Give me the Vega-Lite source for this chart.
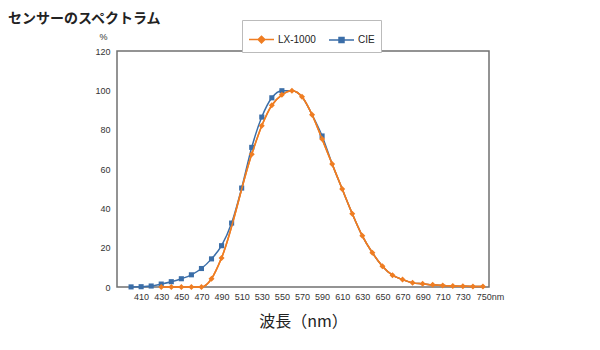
{
  "$schema": "https://vega.github.io/schema/vega-lite/v6.json",
  "autosize": "none",
  "width": 372,
  "height": 236,
  "padding": {"left": 117, "top": 51, "right": 111, "bottom": 63},
  "background": "white",
  "title": {
    "text": "センサーのスペクトラム",
    "anchor": "start",
    "frame": "group",
    "dx": -109,
    "dy": 29,
    "offset": 12,
    "baseline": "alphabetic",
    "font": "Noto Sans CJK JP",
    "fontSize": 14,
    "fontWeight": "bold",
    "color": "#222"
  },
  "config": {
    "view": {"stroke": "#707070", "strokeWidth": 1.5},
    "axis": {"domain": false, "ticks": false, "grid": false, "labelFont": "Liberation Sans", "labelFontSize": 9, "labelColor": "#333"}
  },
  "data": {
    "values": [
      {"wl": 400, "series": "CIE", "v": 0.05},
      {"wl": 410, "series": "CIE", "v": 0.15},
      {"wl": 420, "series": "CIE", "v": 0.5},
      {"wl": 430, "series": "CIE", "v": 1.5},
      {"wl": 440, "series": "CIE", "v": 2.7},
      {"wl": 450, "series": "CIE", "v": 4.2},
      {"wl": 460, "series": "CIE", "v": 6.2},
      {"wl": 470, "series": "CIE", "v": 9.4},
      {"wl": 480, "series": "CIE", "v": 14.3},
      {"wl": 490, "series": "CIE", "v": 21},
      {"wl": 500, "series": "CIE", "v": 32.5},
      {"wl": 510, "series": "CIE", "v": 50.3},
      {"wl": 520, "series": "CIE", "v": 71},
      {"wl": 530, "series": "CIE", "v": 86.4},
      {"wl": 540, "series": "CIE", "v": 96.2},
      {"wl": 550, "series": "CIE", "v": 99.8},
      {"wl": 560, "series": "CIE", "v": 99.8},
      {"wl": 570, "series": "CIE", "v": 96.7},
      {"wl": 580, "series": "CIE", "v": 87.6},
      {"wl": 590, "series": "CIE", "v": 76.8},
      {"wl": 600, "series": "CIE", "v": 62.5},
      {"wl": 610, "series": "CIE", "v": 49.8},
      {"wl": 620, "series": "CIE", "v": 37.3},
      {"wl": 630, "series": "CIE", "v": 26},
      {"wl": 640, "series": "CIE", "v": 17.4},
      {"wl": 650, "series": "CIE", "v": 10.6},
      {"wl": 660, "series": "CIE", "v": 6},
      {"wl": 670, "series": "CIE", "v": 3.8},
      {"wl": 680, "series": "CIE", "v": 2.1},
      {"wl": 690, "series": "CIE", "v": 1.6},
      {"wl": 700, "series": "CIE", "v": 1.1},
      {"wl": 710, "series": "CIE", "v": 0.7},
      {"wl": 720, "series": "CIE", "v": 0.5},
      {"wl": 730, "series": "CIE", "v": 0.4},
      {"wl": 740, "series": "CIE", "v": 0.3},
      {"wl": 750, "series": "CIE", "v": 0.3},
      {"wl": 430, "series": "LX-1000", "v": 0},
      {"wl": 440, "series": "LX-1000", "v": 0},
      {"wl": 450, "series": "LX-1000", "v": 0},
      {"wl": 460, "series": "LX-1000", "v": 0},
      {"wl": 470, "series": "LX-1000", "v": 0},
      {"wl": 480, "series": "LX-1000", "v": 4.2},
      {"wl": 490, "series": "LX-1000", "v": 14.8},
      {"wl": 520, "series": "LX-1000", "v": 67.5},
      {"wl": 530, "series": "LX-1000", "v": 82},
      {"wl": 540, "series": "LX-1000", "v": 92.4},
      {"wl": 550, "series": "LX-1000", "v": 97.7},
      {"wl": 560, "series": "LX-1000", "v": 99.8},
      {"wl": 570, "series": "LX-1000", "v": 96.7},
      {"wl": 580, "series": "LX-1000", "v": 87.6},
      {"wl": 590, "series": "LX-1000", "v": 75.2},
      {"wl": 600, "series": "LX-1000", "v": 62.5},
      {"wl": 610, "series": "LX-1000", "v": 49.8},
      {"wl": 620, "series": "LX-1000", "v": 37.3},
      {"wl": 630, "series": "LX-1000", "v": 26},
      {"wl": 640, "series": "LX-1000", "v": 17.4},
      {"wl": 650, "series": "LX-1000", "v": 10.6},
      {"wl": 660, "series": "LX-1000", "v": 6},
      {"wl": 670, "series": "LX-1000", "v": 3.8},
      {"wl": 680, "series": "LX-1000", "v": 2.1},
      {"wl": 690, "series": "LX-1000", "v": 1.6},
      {"wl": 700, "series": "LX-1000", "v": 1.1},
      {"wl": 710, "series": "LX-1000", "v": 0.7},
      {"wl": 720, "series": "LX-1000", "v": 0.5},
      {"wl": 730, "series": "LX-1000", "v": 0.4},
      {"wl": 740, "series": "LX-1000", "v": 0.3},
      {"wl": 750, "series": "LX-1000", "v": 0.3}
    ]
  },
  "encoding": {
    "x": {
      "field": "wl",
      "type": "quantitative",
      "scale": {"domain": [386, 756], "nice": false, "zero": false},
      "axis": {
        "values": [410, 430, 450, 470, 490, 510, 530, 550, 570, 590, 610, 630, 650, 670, 690, 710, 730, 750],
        "labelExpr": "datum.value == 750 ? '750nm' : datum.label",
        "labelOffset": {"condition": {"test": "datum.value == 750", "value": 7}, "value": 0},
        "labelPadding": 5,
        "title": "波長（nm）",
        "titleFont": "Noto Sans CJK JP",
        "titleFontSize": 16,
        "titleFontWeight": "normal",
        "titleColor": "#222",
        "titlePadding": 12
      }
    },
    "y": {
      "field": "v",
      "type": "quantitative",
      "scale": {"domain": [0, 120], "nice": false},
      "axis": {
        "values": [0, 20, 40, 60, 80, 100, 120],
        "labelPadding": 7,
        "title": "%",
        "titleAngle": 0,
        "titleFont": "Liberation Sans",
        "titleFontSize": 9,
        "titleFontWeight": "normal",
        "titleColor": "#333",
        "titleX": -14,
        "titleY": -12,
        "titleAlign": "center",
        "titleBaseline": "alphabetic"
      }
    }
  },
  "layer": [
    {
      "mark": {"type": "line", "interpolate": "monotone", "strokeWidth": 1.5},
      "encoding": {
        "color": {
          "field": "series",
          "type": "nominal",
          "sort": ["CIE", "LX-1000"],
          "scale": {"domain": ["LX-1000", "CIE"], "range": ["#ef7d22", "#3b6ea8"]},
          "legend": {
            "title": null,
            "orient": "none",
            "direction": "horizontal",
            "legendX": 125,
            "legendY": -31,
            "strokeColor": "#bbbbbb",
            "fillColor": "white",
            "padding": 6,
            "symbolSize": 625,
            "symbolStrokeWidth": 1.5,
            "labelFont": "Liberation Sans",
            "labelFontSize": 10,
            "labelColor": "#222",
            "columnPadding": 10,
            "labelOffset": 3,
            "encode": {
              "symbols": {
                "update": {
                  "shape": {"signal": "datum.value == 'CIE' ? 'M-1,0L1,0M-0.2,-0.2L0.2,-0.2L0.2,0.2L-0.2,0.2Z' : 'M-1,0L1,0M-0.27,0L0,-0.27L0.27,0L0,0.27Z'"},
                  "fill": {"signal": "datum.value == 'CIE' ? '#3b6ea8' : '#ef7d22'"},
                  "fillOpacity": {"value": 1}
                }
              }
            }
          }
        }
      }
    },
    {
      "transform": [{"filter": "datum.series == 'CIE' && (datum.wl <= 550 || datum.wl == 590)"}],
      "mark": {"type": "point", "filled": true, "opacity": 1, "size": 26, "shape": "square", "color": "#3b6ea8"}
    },
    {
      "transform": [{"filter": "datum.series == 'LX-1000'"}],
      "mark": {"type": "line", "interpolate": "monotone", "strokeWidth": 1.5, "color": "#ef7d22"},
      "encoding": {}
    },
    {
      "transform": [{"filter": "datum.series == 'LX-1000'"}],
      "mark": {"type": "point", "filled": true, "opacity": 1, "size": 36, "shape": "diamond", "color": "#ef7d22"}
    }
  ]
}
